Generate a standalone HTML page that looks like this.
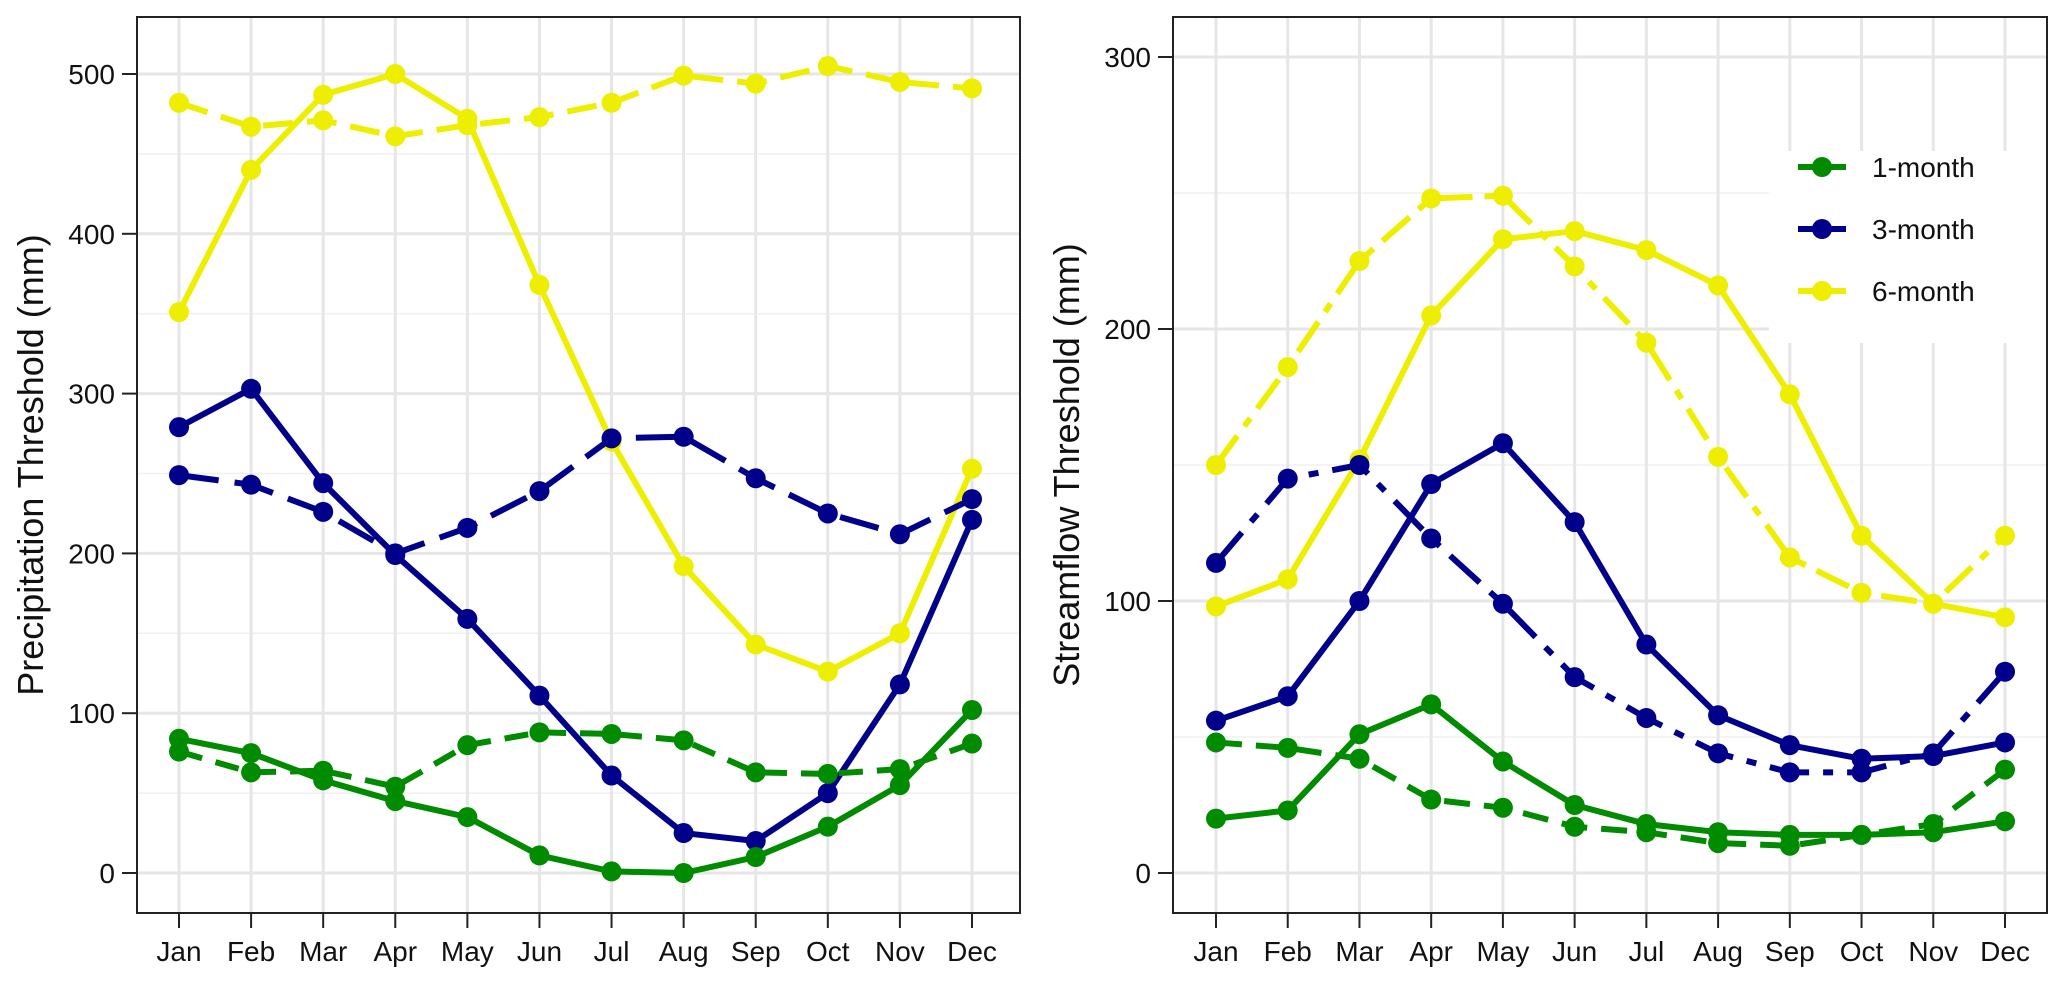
<!DOCTYPE html>
<html><head><meta charset="utf-8"><style>
html,body{margin:0;padding:0;background:#fff;}
svg{display:block;font-family:"Liberation Sans",Arial,sans-serif;}
</style></head><body>
<svg id="chart" width="2067" height="987" viewBox="0 0 2067 987" xmlns="http://www.w3.org/2000/svg"></svg>
<script>
const months = ["Jan","Feb","Mar","Apr","May","Jun","Jul","Aug","Sep","Oct","Nov","Dec"];
const seriesNames = ["1-month","3-month","6-month"];
// Precipitation panel
const p1Solid = [84,75,58,45,35,11,1,0,10,29,55,102];
const p1Dash  = [76,63,64,54,80,88,87,83,63,62,65,81];
const p3Solid = [279,303,244,199,159,111,61,25,20,50,118,221];
const p3Dash  = [249,243,226,200,216,239,272,273,247,225,212,234];
const p6Solid = [351,440,487,500,472,368,270,192,143,126,150,253];
const p6Dash  = [482,467,471,461,468,473,482,499,494,505,495,491];
const pTicks = [0,100,200,300,400,500];
const pMinor = [50,150,250,350,450];
// Streamflow panel
const s1Solid = [20,23,51,62,41,25,18,15,14,14,15,19];
const s1Dash  = [48,46,42,27,24,17,15,11,10,14,18,38];
const s3Solid = [56,65,100,143,158,129,84,58,47,42,43,48];
const s3Dash  = [114,145,150,123,99,72,57,44,37,37,44,74];
const s6Solid = [98,108,152,205,233,236,229,216,176,124,99,94];
const s6Dash  = [150,186,225,248,249,223,195,153,116,103,99,124];
const sTicks = [0,100,200,300];
const sMinor = [50,150,250];

const NS="http://www.w3.org/2000/svg";
const svg=document.getElementById('chart');
const COL={"1-month":"#008b00","3-month":"#00008b","6-month":"#eeee00"};
function mk(tag,attrs,parent){const e=document.createElementNS(NS,tag);for(const k in attrs)e.setAttribute(k,attrs[k]);(parent||svg).appendChild(e);return e;}

function panel(cfg){
  const g=mk('g',{});
  
  
  const x=i=>cfg.x0+(cfg.x1-cfg.x0)*i/11;
  const y=v=>cfg.y0+(cfg.yTop-cfg.y0)*v/cfg.vTop;
  mk('rect',{x:cfg.L,y:cfg.T,width:cfg.R-cfg.L,height:cfg.B-cfg.T,fill:'#fff'},g);
  cfg.minor.forEach(v=>{const l=mk('line',{x1:cfg.L,x2:cfg.R,y1:y(v),y2:y(v),stroke:'#f0f0f0','stroke-width':1.5},g);
    });
  cfg.ticks.forEach(v=>{const l=mk('line',{x1:cfg.L,x2:cfg.R,y1:y(v),y2:y(v),stroke:'#e6e6e6','stroke-width':3},g);
    });
  months.forEach((m,i)=>{const l=mk('line',{x1:x(i),x2:x(i),y1:cfg.T,y2:cfg.B,stroke:'#e6e6e6','stroke-width':3},g);
    });
  if(cfg.legend){const r=mk('rect',{x:1769,y:151,width:279,height:192,fill:'#fff'},g);
    }
  cfg.series.forEach(s=>{
    const sg=mk('g',{},g);
    
    
    const pts=s.vals.map((v,i)=>x(i)+','+y(v)).join(' ');
    const a={points:pts,fill:'none',stroke:COL[s.key],'stroke-width':6,'stroke-linejoin':'round'};
    if(s.dash)a['stroke-dasharray']=s.dash;
    mk('polyline',a,sg);
    s.vals.forEach((v,i)=>{const c=mk('circle',{cx:x(i),cy:y(v),r:10,fill:COL[s.key]},sg);
      });
  });
  mk('rect',{x:cfg.L,y:cfg.T,width:cfg.R-cfg.L,height:cfg.B-cfg.T,fill:'none',stroke:'#222','stroke-width':2},g);
  cfg.ticks.forEach(v=>{
    mk('line',{x1:cfg.L-15,x2:cfg.L,y1:y(v),y2:y(v),stroke:'#222','stroke-width':2},g);
    const t=mk('text',{x:cfg.L-22,y:y(v)+10,'text-anchor':'end','font-size':28,fill:'#111'},g);
    t.textContent=v;
  });
  months.forEach((m,i)=>{
    mk('line',{x1:x(i),x2:x(i),y1:cfg.B,y2:cfg.B+15,stroke:'#222','stroke-width':2},g);
    const t=mk('text',{x:x(i),y:cfg.B+48,'text-anchor':'middle','font-size':28,fill:'#111'},g);
    t.textContent=m;
  });
  const yc=(cfg.T+cfg.B)/2;
  const tt=mk('text',{x:cfg.titleX,y:yc,'text-anchor':'middle','font-size':36,fill:'#111',transform:`rotate(-90 ${cfg.titleX} ${yc})`},g);
  tt.textContent=cfg.title;
  if(cfg.legend){
    const lg=mk('g',{},g);
    seriesNames.forEach((n,i)=>{
      const yy=167+i*62;
      const e=mk('g',{},lg);
      mk('line',{x1:1798,x2:1846,y1:yy,y2:yy,stroke:COL[n],'stroke-width':6},e);
      mk('circle',{cx:1822,cy:yy,r:10,fill:COL[n]},e);
      const t=mk('text',{x:1872,y:yy+10,'font-size':28,fill:'#111'},e);t.textContent=n;
    });
  }
}
panel({name:'precipitation-panel',L:137,R:1020,T:17,B:913,x0:179,x1:972,y0:873,yTop:74,vTop:500,
  ticks:pTicks,minor:pMinor,title:'Precipitation Threshold (mm)',titleX:43,legend:false,
  series:[{key:'6-month',vals:p6Solid},{key:'6-month',vals:p6Dash,dash:'30 14'},
          {key:'3-month',vals:p3Solid},{key:'3-month',vals:p3Dash,dash:'40 16'},
          {key:'1-month',vals:p1Solid},{key:'1-month',vals:p1Dash,dash:'24 14'}]});
panel({name:'streamflow-panel',L:1173,R:2047,T:17,B:913,x0:1216,x1:2005,y0:873,yTop:57,vTop:300,
  ticks:sTicks,minor:sMinor,title:'Streamflow Threshold (mm)',titleX:1079,legend:true,
  series:[{key:'6-month',vals:s6Solid},{key:'6-month',vals:s6Dash,dash:'36 12 10 12'},
          {key:'3-month',vals:s3Solid},{key:'3-month',vals:s3Dash,dash:'40 14 10 14'},
          {key:'1-month',vals:s1Solid},{key:'1-month',vals:s1Dash,dash:'26 14'}]});
</script>
</body></html>
